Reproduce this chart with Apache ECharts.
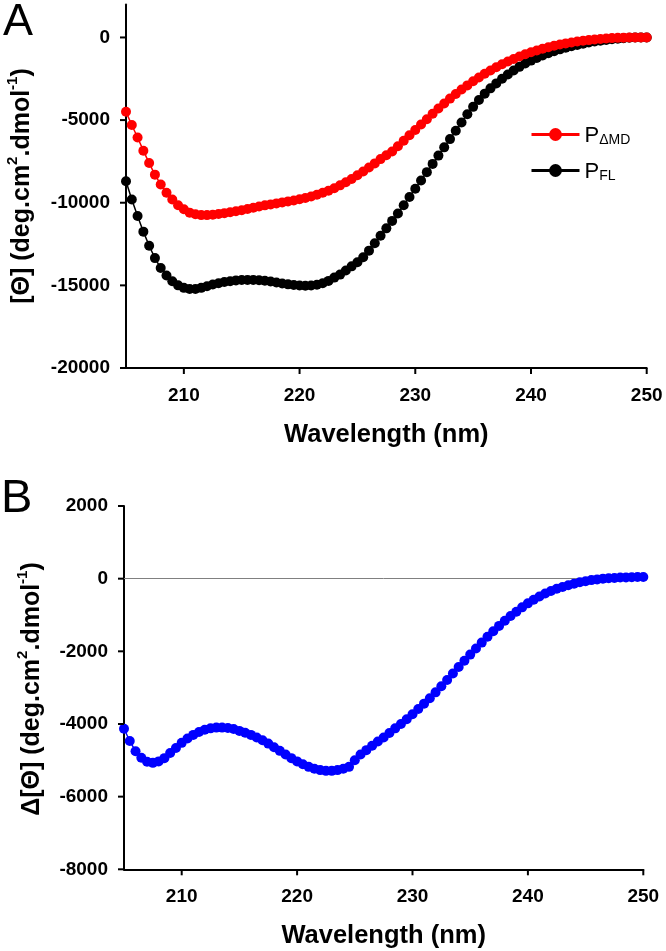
<!DOCTYPE html>
<html>
<head>
<meta charset="utf-8">
<script src="https://cdn.jsdelivr.net/npm/echarts@6/dist/echarts.min.js"></script>
<style>
html,body{margin:0;padding:0;background:#fff;}
#chart{width:666px;height:951px;}
</style>
</head>
<body>
<div id="chart"></div>
<script>
// Wavelength (nm), 0.5 nm steps
var wavelengths = [205,205.5,206,206.5,207,207.5,208,208.5,209,209.5,210,210.5,211,211.5,212,212.5,213,213.5,214,214.5,215,215.5,216,216.5,217,217.5,218,218.5,219,219.5,220,220.5,221,221.5,222,222.5,223,223.5,224,224.5,225,225.5,226,226.5,227,227.5,228,228.5,229,229.5,230,230.5,231,231.5,232,232.5,233,233.5,234,234.5,235,235.5,236,236.5,237,237.5,238,238.5,239,239.5,240,240.5,241,241.5,242,242.5,243,243.5,244,244.5,245,245.5,246,246.5,247,247.5,248,248.5,249,249.5,250];

// Panel A: P_ΔMD (red)
var pDeltaMD = [-4500,-5300,-6050,-6850,-7600,-8300,-8900,-9400,-9800,-10150,-10400,-10600,-10700,-10750,-10750,-10720,-10680,-10630,-10580,-10520,-10450,-10380,-10300,-10230,-10160,-10100,-10040,-9980,-9920,-9860,-9790,-9710,-9620,-9520,-9400,-9270,-9120,-8950,-8760,-8560,-8340,-8110,-7870,-7620,-7360,-7130,-6900,-6580,-6250,-5920,-5600,-5270,-4950,-4620,-4300,-4000,-3700,-3420,-3150,-2900,-2650,-2420,-2200,-2000,-1800,-1620,-1450,-1300,-1150,-1020,-900,-790,-680,-590,-500,-430,-360,-300,-250,-200,-160,-120,-90,-60,-40,-25,-15,-5,0,0,0];

// Panel A: P_FL (black)
var pFL = [-8700,-9800,-10800,-11750,-12600,-13350,-13950,-14400,-14750,-15000,-15150,-15220,-15220,-15150,-15050,-14950,-14870,-14800,-14750,-14700,-14680,-14670,-14670,-14690,-14720,-14770,-14830,-14890,-14940,-14980,-15010,-15020,-15010,-14960,-14870,-14730,-14530,-14350,-14100,-13850,-13600,-13300,-12900,-12450,-12000,-11550,-11100,-10650,-10150,-9650,-9150,-8650,-8150,-7650,-7150,-6650,-6150,-5650,-5150,-4650,-4200,-3780,-3400,-3080,-2780,-2500,-2240,-2000,-1780,-1580,-1400,-1240,-1090,-950,-830,-720,-620,-530,-450,-380,-310,-250,-200,-150,-110,-75,-45,-20,-5,0,0];

// Panel B: Δ[Θ] (blue)
var deltaTheta = [-4130,-4470,-4750,-4930,-5040,-5070,-5030,-4940,-4800,-4660,-4520,-4400,-4300,-4220,-4160,-4120,-4100,-4100,-4110,-4140,-4190,-4240,-4300,-4370,-4450,-4540,-4640,-4740,-4840,-4940,-5030,-5110,-5180,-5230,-5270,-5290,-5290,-5270,-5230,-5180,-5000,-4840,-4720,-4600,-4480,-4370,-4250,-4120,-4000,-3870,-3730,-3590,-3440,-3290,-3130,-2960,-2790,-2610,-2430,-2260,-2090,-1920,-1760,-1600,-1450,-1300,-1160,-1030,-910,-790,-680,-580,-490,-410,-340,-280,-230,-180,-140,-100,-70,-40,-20,0,10,20,30,35,40,45,45];

// Axis ranges and tick values
var xRange = [205, 250];
var yRangeA = [-20000, 2000];
var yRangeB = [-8000, 2000];
var xTickLabels = [210,220,230,240,250];
var yTickLabelsA = [-20000,-15000,-10000,-5000,0];
var yTickLabelsB = [-8000,-6000,-4000,-2000,0,2000];

function pairs(xs, ys){ return xs.map(function(x,i){ return [x, ys[i]]; }); }

var FONT = 'Liberation Sans, Arial, sans-serif';
function onlyIn(list){ return function(v){ return list.indexOf(v) >= 0 ? String(v) : ''; }; }

function makeX(gridIndex){
  return {
    type:'value', gridIndex:gridIndex, min:xRange[0], max:xRange[1], splitNumber:5,
    axisLine:{show:true, onZero:false, lineStyle:{color:'#000', width:2}},
    axisTick:{show:false},
    axisLabel:{show:true, margin:18, showMinLabel:false, color:'#000', fontFamily:FONT, fontWeight:'bold', fontSize:19, formatter:onlyIn(xTickLabels)},
    splitLine:{show:false}, minorTick:{show:false},
    name:'Wavelength (nm)', nameLocation:'middle', nameGap:54,
    nameTextStyle:{color:'#000', fontFamily:FONT, fontWeight:'bold', fontSize:25.5}
  };
}
function makeY(gridIndex, rng, labels){
  return {
    type:'value', gridIndex:gridIndex, min:rng[0], max:rng[1], splitNumber:5,
    axisLine:{show:true, onZero:false, lineStyle:{color:'#000', width:2}},
    axisTick:{show:false},
    axisLabel:{show:true, margin:16, color:'#000', fontFamily:FONT, fontWeight:'bold', fontSize:19, formatter:onlyIn(labels)},
    splitLine:{show:false}, minorTick:{show:false}
  };
}

// Tick marks drawn through the axes' own coordinate system
function tickSeries(gridIndex, dir, values, fixed){
  var data = values.map(function(v){ return dir === 'x' ? [v, fixed] : [fixed, v]; });
  return {
    type:'custom', xAxisIndex:gridIndex, yAxisIndex:gridIndex, clip:false, silent:true, z:5,
    data:data,
    renderItem:function(params, api){
      var p = api.coord([api.value(0), api.value(1)]);
      var shape = dir === 'x' ? {x1:p[0], y1:p[1], x2:p[0], y2:p[1]+6}
                              : {x1:p[0]-6, y1:p[1], x2:p[0], y2:p[1]};
      return {type:'line', shape:shape, style:{stroke:'#000', lineWidth:2}};
    }
  };
}

var chart = echarts.init(document.getElementById('chart'), null, {renderer:'canvas'});

var titleRich = {
  a:{fontFamily:FONT, fontWeight:'bold', fontSize:25, color:'#000', lineHeight:30, verticalAlign:'bottom'},
  s:{fontFamily:FONT, fontWeight:'bold', fontSize:15, color:'#000', lineHeight:30, verticalAlign:'top'}
};

var option = {
  backgroundColor:'#fff',
  animation:false,
  grid:[
    {left:126, top:4.4, width:520.7, height:363.6, containLabel:false, outerBoundsMode:'none'},
    {left:124, top:506, width:519.3, height:363.3, containLabel:false, outerBoundsMode:'none'}
  ],
  xAxis:[makeX(0), makeX(1)],
  yAxis:[makeY(0,yRangeA,yTickLabelsA), makeY(1,yRangeB,yTickLabelsB)],
  legend:{
    left:525, top:120, orient:'vertical', itemWidth:48, itemHeight:16, itemGap:14,
    data:['PΔMD','PFL'],
    lineStyle:{width:3},
    textStyle:{color:'#000', fontFamily:FONT, fontSize:21,
      rich:{
        p:{fontFamily:FONT, fontSize:22, color:'#000', lineHeight:25, verticalAlign:'bottom'},
        s:{fontFamily:FONT, fontSize:14, color:'#000', lineHeight:25, verticalAlign:'bottom'}
      }
    },
    formatter:function(name){ return '{p|P}{s|' + name.slice(1) + '}'; }
  },
  graphic:[
    {type:'text', left:3, top:0, style:{text:'A', fontFamily:FONT, fontSize:45, fill:'#000'}},
    {type:'text', left:1, top:476, style:{text:'B', fontFamily:FONT, fontSize:47, fill:'#000'}},
    {type:'text', x:20, y:186, rotation:Math.PI/2,
      style:{text:'{a|[Θ] (deg.cm}{s|2}{a|.dmol}{s|-1}{a|)}', rich:titleRich, align:'center', verticalAlign:'middle'}},
    {type:'text', x:30, y:689, rotation:Math.PI/2,
      style:{text:'{a|Δ[Θ] (deg.cm}{s|2}{a|.dmol}{s|-1}{a|)}', rich:titleRich, align:'center', verticalAlign:'middle'}}
  ],
  series:[
    {name:'PΔMD', type:'line', xAxisIndex:0, yAxisIndex:0, data:pairs(wavelengths,pDeltaMD),
      symbol:'circle', symbolSize:10, showSymbol:true, color:'#ff0000',
      itemStyle:{color:'#ff0000'}, lineStyle:{color:'#ff0000', width:1.5}, z:3},
    {name:'PFL', type:'line', xAxisIndex:0, yAxisIndex:0, data:pairs(wavelengths,pFL),
      symbol:'circle', symbolSize:10, showSymbol:true, color:'#000000',
      itemStyle:{color:'#000000'}, lineStyle:{color:'#000000', width:1.5}, z:2},
    {name:'delta', type:'line', xAxisIndex:1, yAxisIndex:1, data:pairs(wavelengths,deltaTheta),
      symbol:'circle', symbolSize:10, showSymbol:true, color:'#0000ff',
      itemStyle:{color:'#0000ff'}, lineStyle:{color:'#0000ff', width:1.5}, z:3,
      markLine:{silent:true, symbol:['none','none'], label:{show:false}, z:1,
        lineStyle:{color:'#808080', type:'solid', width:1}, data:[{yAxis:0}]}},
    tickSeries(0, 'x', xTickLabels, yRangeA[0]),
    tickSeries(0, 'y', yTickLabelsA, xRange[0]),
    tickSeries(1, 'x', xTickLabels, yRangeB[0]),
    tickSeries(1, 'y', yTickLabelsB, xRange[0])
  ]
};
chart.setOption(option);
</script>
</body>
</html>
